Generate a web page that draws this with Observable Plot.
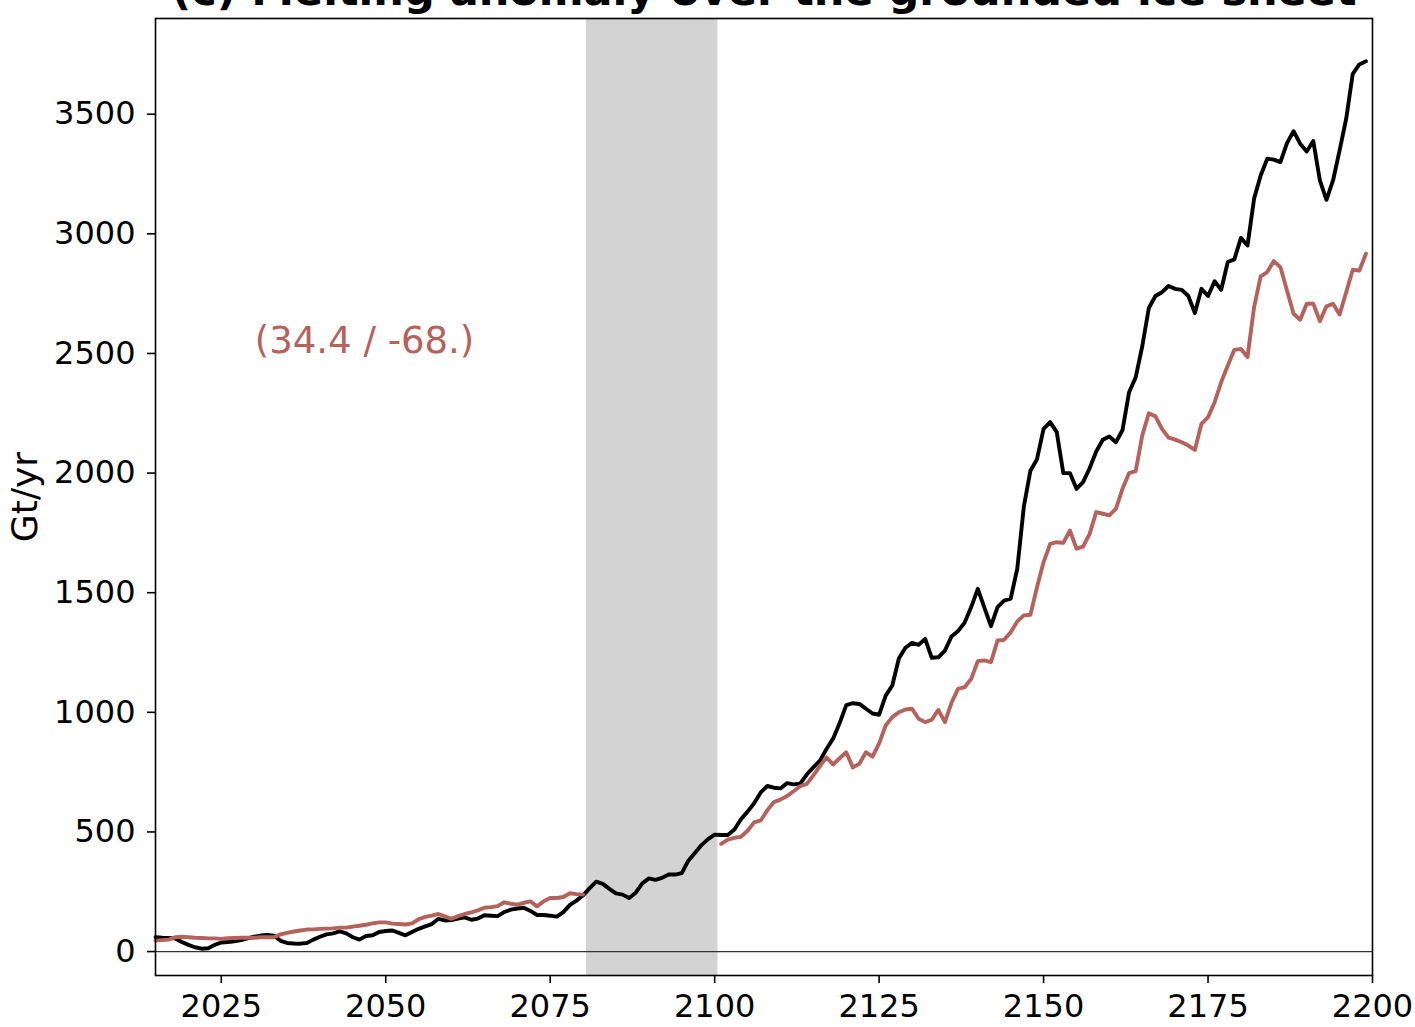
<!DOCTYPE html>
<html>
<head>
<meta charset="utf-8">
<script src="https://cdn.jsdelivr.net/npm/d3@7"></script>
<script src="https://cdn.jsdelivr.net/npm/@observablehq/plot@0.6"></script>
<style>
html, body { margin: 0; padding: 0; background: #fff; overflow: hidden; }
#wrap { position: relative; width: 1415px; height: 1027px; }
#title {
  position: absolute; left: 0; top: -31px; width: 1528px;
  text-align: center; font-family: "DejaVu Sans", sans-serif; font-weight: bold;
  font-size: 43px; line-height: 1; color: #000; white-space: nowrap; z-index: 2;
}
#chart { position: absolute; left: 0; top: 0; }
</style>
</head>
<body>
<div id="wrap">
  <div id="title"></div>
  <div id="chart"></div>
</div>
<script>
// ---- Data ----
const titleText = "(c) Melting anomaly over the grounded ice sheet";
const yLabel = "Gt/yr";
const annotationText = "(34.4 / -68.)";

const xTicks = [2025, 2050, 2075, 2100, 2125, 2150, 2175, 2200];
const yTicks = [0, 500, 1000, 1500, 2000, 2500, 3000, 3500];

// Shaded period
const bandStart = 2080.5;
const bandEnd = 2100.5;

// Black series: years 2015..2199
const blackStartYear = 2015;
const blackValues = [
  60, 58, 57, 55, 40, 28, 18, 12, 14, 28,
  38, 40, 43, 48, 55, 62, 67, 70, 66, 45,
  36, 34, 33, 36, 50, 62, 72, 76, 84, 76,
  60, 50, 65, 68, 82, 86, 88, 78, 68, 82,
  95, 105, 115, 137, 130, 132, 138, 143, 133, 138,
  152, 150, 148, 165, 175, 180, 183, 170, 153, 153,
  150, 146, 165, 195, 213, 235, 265, 292, 283, 262,
  243, 238, 224, 246, 285, 306, 300, 308, 322, 322,
  328, 380, 412, 445, 470, 489, 487, 487, 510, 553,
  585, 620, 665, 692, 685, 682, 704, 699, 702, 740,
  770, 798, 847, 890, 955, 1030, 1038, 1035, 1015, 995,
  990, 1070, 1112, 1225, 1270, 1290, 1282, 1307, 1228, 1230,
  1258, 1317, 1340, 1375, 1440, 1516, 1438, 1360, 1440, 1467,
  1475, 1600, 1860, 2010, 2058, 2185, 2213, 2171, 2000, 2000,
  1934, 1962, 2020, 2090, 2139, 2153, 2129, 2180, 2338, 2400,
  2530, 2690, 2740, 2756, 2782, 2770, 2766, 2740, 2669, 2770,
  2740, 2802, 2766, 2882, 2893, 2983, 2951, 3147, 3244, 3314,
  3310, 3300, 3379, 3429, 3377, 3344, 3388, 3223, 3142, 3223,
  3349, 3481, 3669, 3708, 3721
];

// Red series, first part: years 2015..2080
const redStartYear1 = 2015;
const redValues1 = [
  46, 48, 50, 60, 62, 60, 58, 57, 55, 55,
  53, 56, 57, 58, 58, 58, 60, 60, 60, 72,
  78, 84, 88, 92, 93, 95, 96, 97, 100, 100,
  104, 108, 112, 118, 122, 122, 117, 115, 113, 118,
  135, 145, 150, 157, 147, 137, 148, 157, 164, 172,
  183, 186, 190, 206, 200, 196, 204, 210, 189, 210,
  224, 224, 228, 244, 240, 238
];

// Red series, second part: years 2101..2199
const redStartYear2 = 2101;
const redValues2 = [
  450, 468, 475, 480, 505, 540, 548, 590, 625, 635,
  650, 670, 691, 701, 736, 775, 812, 782, 808, 833,
  770, 785, 833, 815, 870, 945, 980, 1000, 1012, 1015,
  973, 959, 969, 1010, 959, 1040, 1098, 1105, 1140, 1214,
  1217, 1210, 1300, 1303, 1335, 1380, 1405, 1408, 1523, 1628,
  1704, 1711, 1708, 1760, 1684, 1693, 1746, 1837, 1830, 1823,
  1851, 1934, 2000, 2008, 2157, 2250, 2237, 2185, 2148, 2140,
  2129, 2115, 2097, 2206, 2234, 2296, 2380, 2450, 2515, 2519,
  2485, 2694, 2822, 2840, 2886, 2861, 2763, 2666, 2641, 2708,
  2708, 2635, 2697, 2708, 2663, 2756, 2850, 2846, 2917
];

// ---- Build tables ----
const toRows = (start, vals) => vals.map((v, i) => ({year: start + i, value: v}));
const black = toRows(blackStartYear, blackValues);
const red1 = toRows(redStartYear1, redValues1);
const red2 = toRows(redStartYear2, redValues2);

const RED = "#b5625c";
const FONT = "DejaVu Sans, sans-serif";

document.getElementById("title").textContent = titleText;

const chart = Plot.plot({
  width: 1415,
  height: 1027,
  marginLeft: 155,
  marginRight: 43,
  marginTop: 18,
  marginBottom: 52,
  style: {fontFamily: FONT, fontSize: "32px", background: "white", color: "black", overflow: "hidden"},
  x: {domain: [2015, 2200]},
  y: {domain: [-100, 3900]},
  marks: [
    Plot.rect([{start: bandStart, end: bandEnd}], {x1: "start", x2: "end", fill: "#d3d3d3"}),
    Plot.ruleY([0], {stroke: "#333", strokeWidth: 1.1}),
    Plot.line(black, {x: "year", y: "value", stroke: "black", strokeWidth: 3.9}),
    Plot.line(red1, {x: "year", y: "value", stroke: RED, strokeWidth: 3.9}),
    Plot.line(red2, {x: "year", y: "value", stroke: RED, strokeWidth: 3.9}),
    Plot.axisX({ticks: xTicks, tickFormat: d => String(d), tickSize: 8, tickPadding: 11,
      strokeWidth: 1.6, fontSize: 32, label: null}),
    Plot.axisY({ticks: yTicks, tickFormat: d => String(d), tickSize: 8, tickPadding: 12,
      strokeWidth: 1.6, fontSize: 32, label: null}),
    Plot.frame({stroke: "black", strokeWidth: 1.6}),
    Plot.text([annotationText], {x: 2030.1, y: 2500, text: d => d, fill: RED, fontSize: 37,
      textAnchor: "start", lineAnchor: "bottom"}),
    Plot.text([yLabel], {frameAnchor: "left", dx: -130, dy: 0, rotate: -90, text: d => d,
      fontSize: 36, fill: "black", textAnchor: "middle", lineAnchor: "middle"})
  ]
});
document.getElementById("chart").appendChild(chart);
</script>
</body>
</html>
